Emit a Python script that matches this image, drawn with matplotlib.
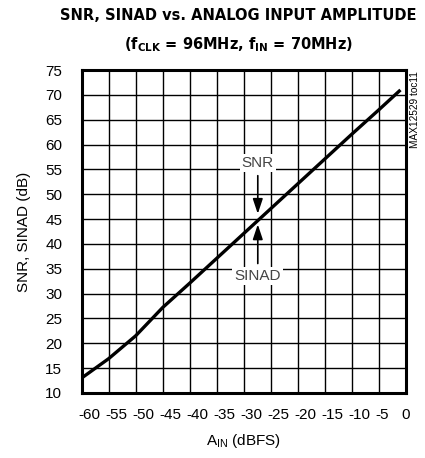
import matplotlib
matplotlib.use('Agg')
import matplotlib.pyplot as plt
import matplotlib.transforms as mtransforms

plt.rcParams['font.family'] = ['Liberation Sans', 'DejaVu Sans']
plt.rcParams['mathtext.fontset'] = 'custom'
plt.rcParams['mathtext.rm'] = 'Liberation Sans'
plt.rcParams['mathtext.bf'] = 'DejaVu Sans:weight=bold:stretch=condensed'

# data
ain = [-60, -55, -50, -45, -40, -35, -30, -25, -20, -15, -10, -5, -1]
snr = [13.0, 16.9, 21.5, 27.2, 32.1, 37.1, 42.1, 47.1, 52.1, 57.1, 62.1, 67.0, 71.0]
xticks = [-60, -55, -50, -45, -40, -35, -30, -25, -20, -15, -10, -5, 0]
yticks = [10, 15, 20, 25, 30, 35, 40, 45, 50, 55, 60, 65, 70, 75]

fig = plt.figure(figsize=(4.25, 4.58), dpi=100)
ax = fig.add_axes([0.192, 0.142, 0.763, 0.705])

ax.plot(ain, snr, color='black', lw=2.4, solid_capstyle='butt', zorder=3)

ax.set_xlim(-60, 0)
ax.set_ylim(10, 75)
ax.set_xticks(xticks)
ax.set_yticks(yticks)
ax.set_xticklabels([str(v) for v in xticks], fontsize=11)
ax.set_yticklabels([str(v) for v in yticks], fontsize=11)
ax.tick_params(axis='x', length=0, pad=11)
ax.tick_params(axis='y', length=0, pad=14)
ax.grid(True, color='black', lw=1.0)
for sp in ax.spines.values():
    sp.set_linewidth(2.2)

# the original labels sit a bit right of their gridlines
for lab, v in zip(ax.get_xticklabels(), xticks):
    if v < 0:
        off = 3 if v == -5 else 8
        lab.set_transform(lab.get_transform() + mtransforms.ScaledTranslation(off / 100, 0, fig.dpi_scale_trans))

ax.set_xlabel('A$_{\\mathrm{IN}}$ (dBFS)', fontsize=11, labelpad=7)
ax.set_ylabel('SNR, SINAD (dB)', fontsize=11, labelpad=10)

tfont = dict(family='DejaVu Sans', stretch='condensed', fontweight='bold', fontsize=11.7)
fig.text(0.561, 0.967, 'SNR, SINAD vs. ANALOG INPUT AMPLITUDE', ha='center', va='center', **tfont)
fig.text(0.561, 0.902, '(f$_{\\mathbf{CLK}}$ = 96MHz, f$_{\\mathbf{IN}}$ = 70MHz)', ha='center', va='center', **tfont)

# annotations
ax.text(-27.4, 56.3, 'SNR', ha='center', va='center', fontsize=11, color='#444444',
        bbox=dict(facecolor='white', edgecolor='none', pad=1.5), zorder=4)
ax.text(-27.4, 33.5, 'SINAD', ha='center', va='center', fontsize=11, color='#444444',
        bbox=dict(facecolor='white', edgecolor='none', pad=1.5), zorder=4)
ax.annotate('', xy=(-27.4, 45.5), xytext=(-27.4, 54.3),
            arrowprops=dict(arrowstyle='-|>,head_length=0.9,head_width=0.3', color='black', lw=1.2), zorder=4)
ax.annotate('', xy=(-27.4, 44.5), xytext=(-27.4, 35.5),
            arrowprops=dict(arrowstyle='-|>,head_length=0.9,head_width=0.3', color='black', lw=1.2), zorder=4)

fig.text(0.977, 0.76, 'MAX12529 toc11', rotation=90, ha='center', va='center', fontsize=7.3)

fig.savefig('out.png', dpi=100)
